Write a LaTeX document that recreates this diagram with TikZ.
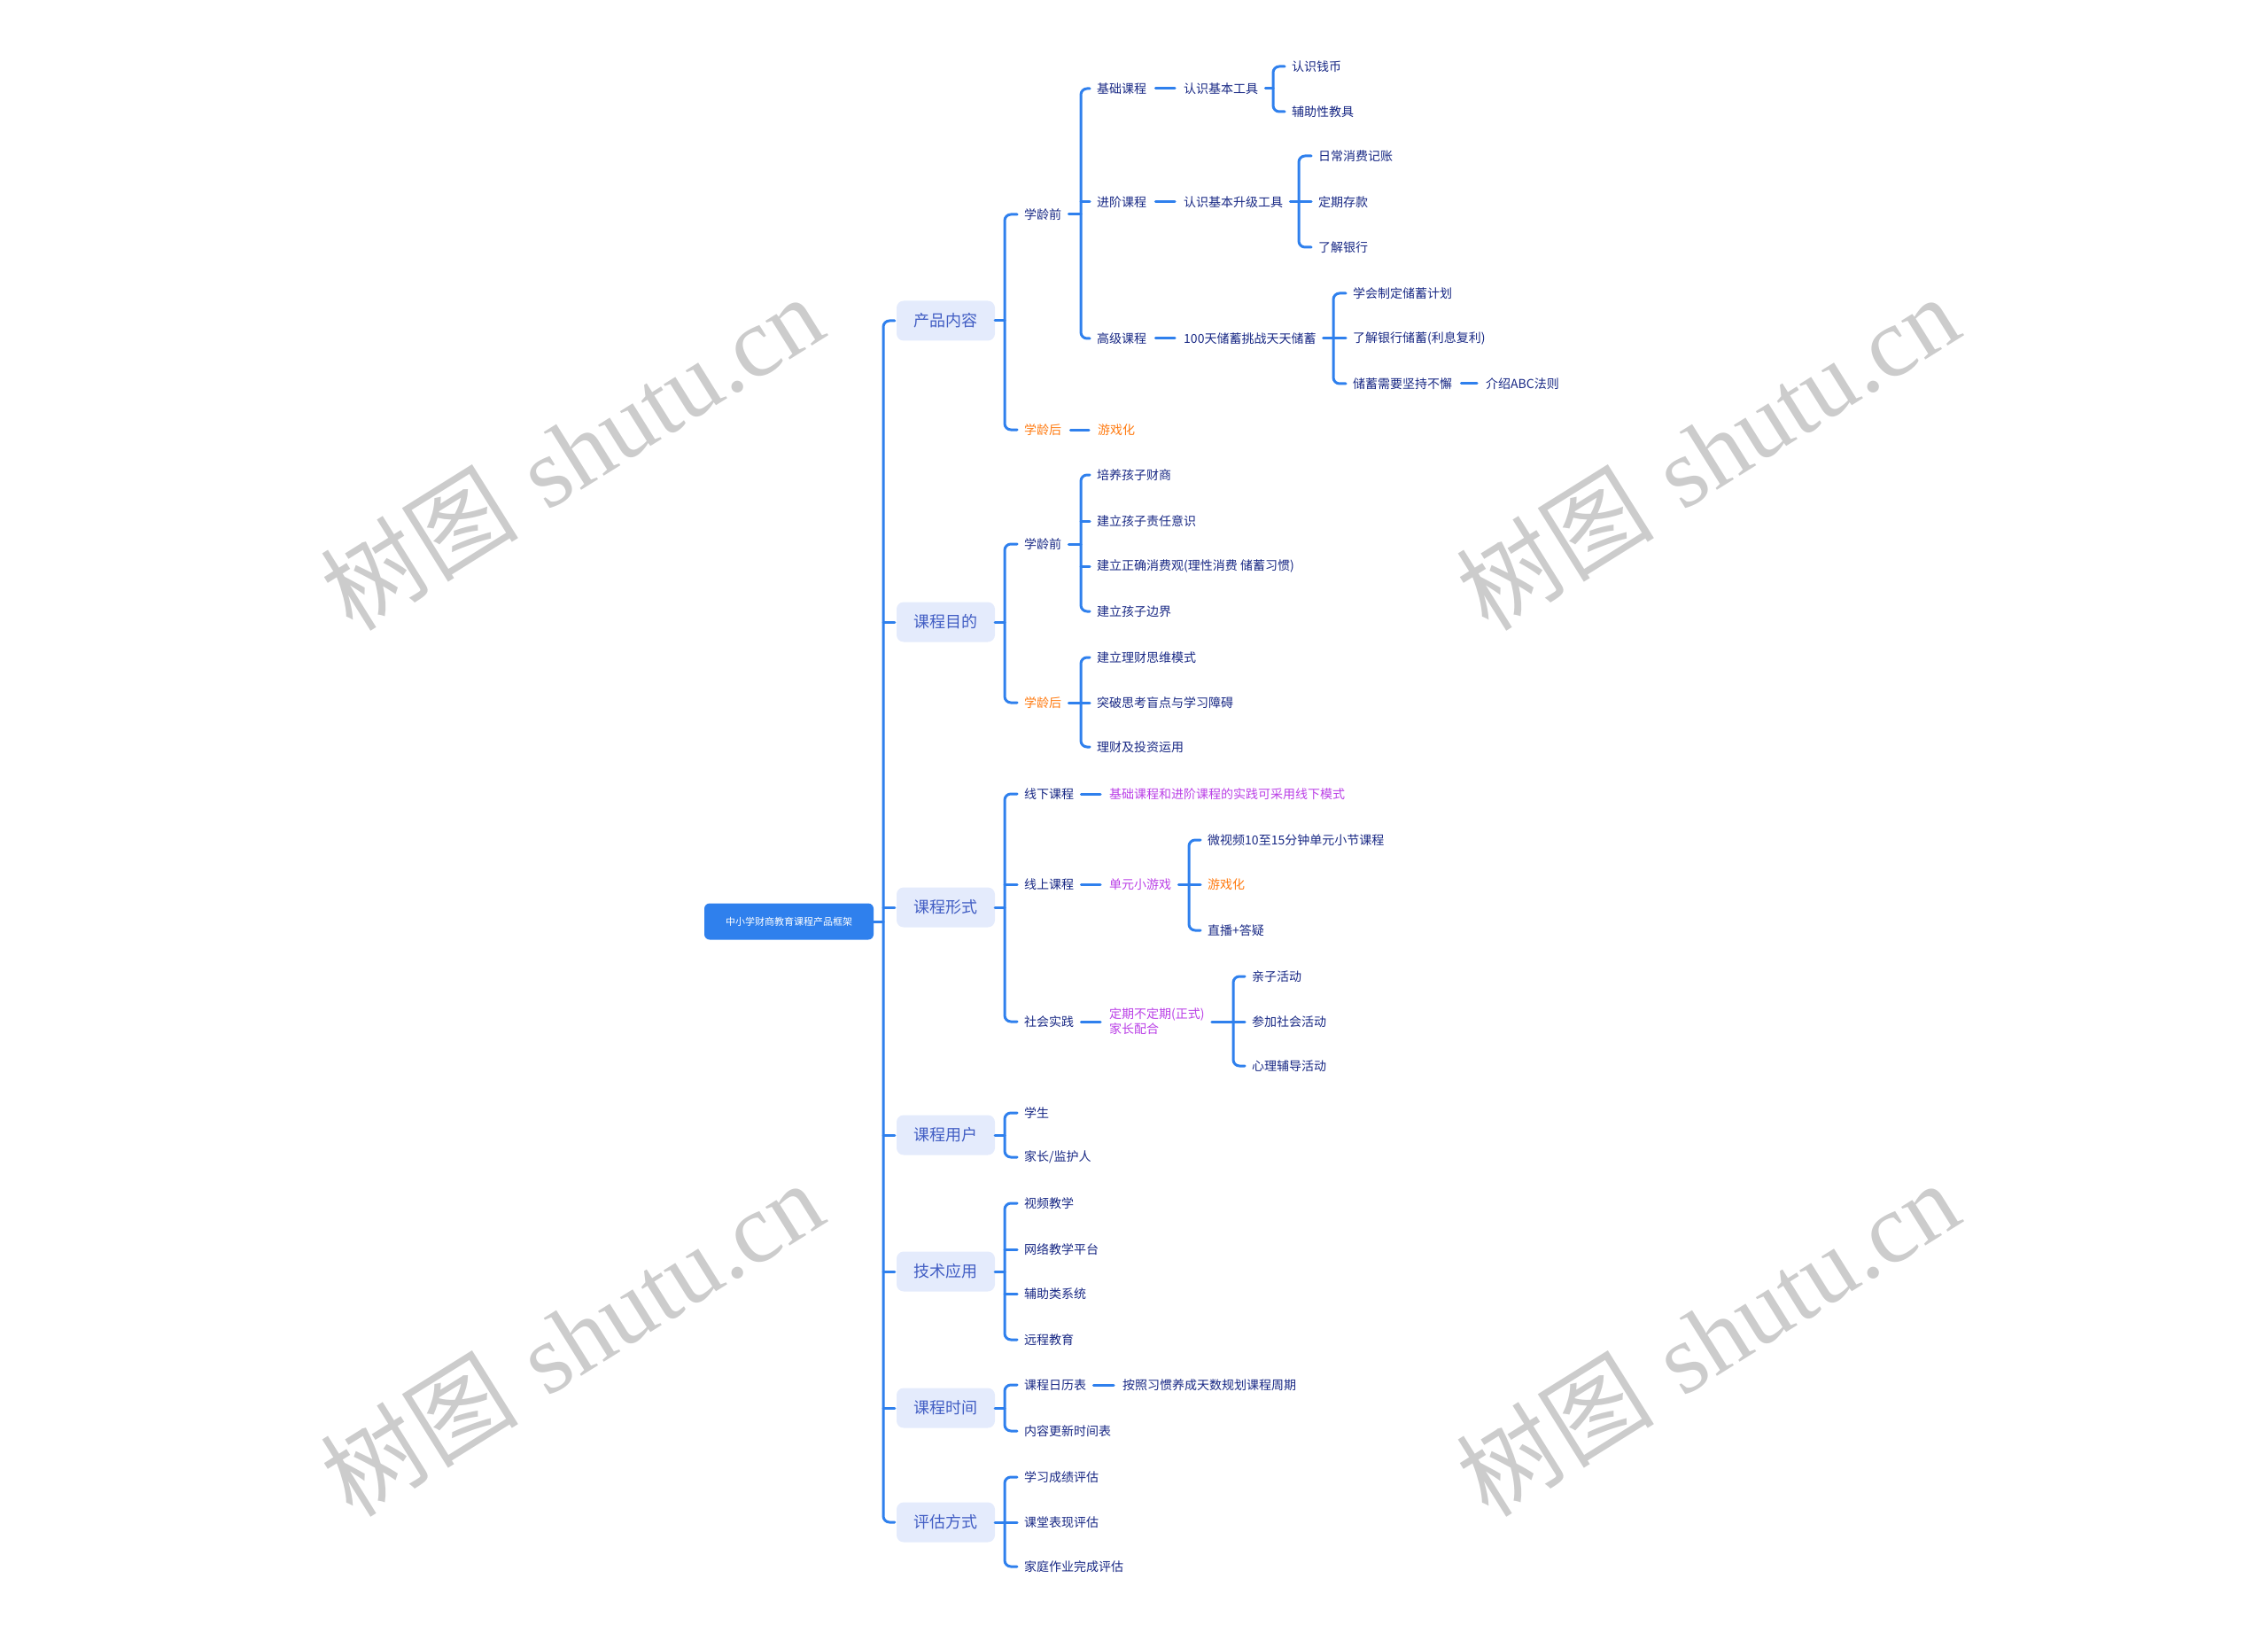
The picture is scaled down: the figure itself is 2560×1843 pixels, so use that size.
\documentclass[tikz,border=0pt]{standalone}
\usepackage{fontspec}
\newfontfamily\cjk{Noto Sans CJK SC}
\newfontfamily\wmserif{Liberation Serif}
\usetikzlibrary{calc}
\definecolor{lineblue}{RGB}{47,128,237}
\definecolor{rootblue}{RGB}{47,128,237}
\definecolor{boxfill}{RGB}{228,235,252}
\definecolor{lvtext}{RGB}{66,94,196}
\definecolor{navy}{RGB}{24,40,132}
\definecolor{orng}{RGB}{255,122,16}
\definecolor{mgnt}{RGB}{186,64,230}
\definecolor{wm}{RGB}{204,204,204}
\begin{document}
\begin{tikzpicture}[x=1pt,y=-1pt,
  conn/.style={draw=lineblue,line width=3pt,rounded corners=7pt,line cap=round},
  rootbox/.style={fill=rootblue,rounded corners=6pt,text=white,font=\cjk\fontsize{11}{13}\selectfont,minimum width=191pt,minimum height=41pt,inner sep=0},
  lvone/.style={fill=boxfill,rounded corners=8pt,text=lvtext,font=\cjk\fontsize{18}{20}\selectfont,minimum width=111pt,minimum height=45pt,inner sep=0},
  leaf/.style={anchor=west,inner sep=0,text=navy,font=\cjk\fontsize{14}{17}\selectfont},
  hot/.style={leaf,text=orng},
  mag/.style={leaf,text=mgnt,align=left},
  wmark/.style={text=wm,rotate=32,font=\fontsize{112}{120}\selectfont}]
\useasboundingbox (0,0) rectangle (2560,1843);

% watermarks
\node[wmark] (wm1) at (645,510) {{\cjk 树图} {\wmserif shutu.cn}};
\node[wmark] (wm2) at (1927,510) {{\cjk 树图} {\wmserif shutu.cn}};
\node[wmark] (wm3) at (645,1510) {{\cjk 树图} {\wmserif shutu.cn}};
\node[wmark] (wm4) at (1927,1510) {{\cjk 树图} {\wmserif shutu.cn}};

% root and level one
\node[rootbox] (root) at (890.5,1040) {中小学财商教育课程产品框架};
\node[lvone] (p1) at (1067.5,362) {产品内容};
\node[lvone] (p2) at (1067.5,702) {课程目的};
\node[lvone] (p3) at (1067.5,1024) {课程形式};
\node[lvone] (p4) at (1067.5,1281) {课程用户};
\node[lvone] (p5) at (1067.5,1435) {技术应用};
\node[lvone] (p6) at (1067.5,1589) {课程时间};
\node[lvone] (p7) at (1067.5,1718) {评估方式};

\coordinate (T) at (997,0);
\draw[conn] (root.east) -- (T |- root.east);
\draw[conn] ([xshift=-2pt]p1.west) -- (T |- p1.west) -- (T |- p7.west) -- ([xshift=-2pt]p7.west);
\foreach \p in {p2,p3,p4,p5,p6} \draw[conn] (T |- \p.west) -- ([xshift=-2pt]\p.west);

% level two
\node[leaf] (a1) at (1156,242) {学龄前};
\node[hot]  (a2) at (1156,485) {学龄后};
\node[leaf] (b1) at (1156,614) {学龄前};
\node[hot]  (b2) at (1156,793) {学龄后};
\node[leaf] (c1) at (1156,896) {线下课程};
\node[leaf] (c2) at (1156,998) {线上课程};
\node[leaf] (c3) at (1156,1153) {社会实践};
\node[leaf] (d1) at (1156,1256) {学生};
\node[leaf] (d2) at (1156,1306) {家长/监护人};
\node[leaf] (e1) at (1156,1358) {视频教学};
\node[leaf] (e2) at (1156,1410) {网络教学平台};
\node[leaf] (e3) at (1156,1460) {辅助类系统};
\node[leaf] (e4) at (1156,1512) {远程教育};
\node[leaf] (f1) at (1156,1563) {课程日历表};
\node[leaf] (f2) at (1156,1615) {内容更新时间表};
\node[leaf] (g1) at (1156,1667) {学习成绩评估};
\node[leaf] (g2) at (1156,1718) {课堂表现评估};
\node[leaf] (g3) at (1156,1768) {家庭作业完成评估};

\coordinate (B) at (1134,0);
\foreach \p/\f/\l in {p1/a1/a2,p2/b1/b2,p3/c1/c3,p4/d1/d2,p5/e1/e4,p6/f1/f2,p7/g1/g3}{
  \draw[conn] (\p.east) -- (B |- \p.east);
  \draw[conn] ([xshift=-8pt]\f.west) -- (B |- \f.west) -- (B |- \l.west) -- ([xshift=-8pt]\l.west);
}
\foreach \m in {c2,e2,e3,g2} \draw[conn] (B |- \m.west) -- ([xshift=-8pt]\m.west);

% level three: product content
\node[leaf] (a11) at (1238,100) {基础课程};
\node[leaf] (a12) at (1238,228) {进阶课程};
\node[leaf] (a13) at (1238,382) {高级课程};
\coordinate (BA) at (1220,0);
\draw[conn] ([xshift=8pt]a1.east) -- (BA |- a1.east);
\draw[conn] ([xshift=-8pt]a11.west) -- (BA |- a11.west) -- (BA |- a13.west) -- ([xshift=-8pt]a13.west);
\draw[conn] (BA |- a12.west) -- ([xshift=-8pt]a12.west);

\node[leaf] (a111) at (1336,100) {认识基本工具};
\node[leaf] (a121) at (1336,228) {认识基本升级工具};
\node[leaf] (a131) at (1336,382) {100天储蓄挑战天天储蓄};
\foreach \u/\v in {a11/a111,a12/a121,a13/a131}
  \draw[conn] ([xshift=10pt]\u.east) -- ([xshift=-10pt]\v.west);

\node[leaf] (a1111) at (1458,75) {认识钱币};
\node[leaf] (a1112) at (1458,126) {辅助性教具};
\coordinate (BB) at (1437,0);
\draw[conn] ([xshift=8pt]a111.east) -- (BB |- a111.east);
\draw[conn] ([xshift=-8pt]a1111.west) -- (BB |- a1111.west) -- (BB |- a1112.west) -- ([xshift=-8pt]a1112.west);

\node[leaf] (a1211) at (1488,176) {日常消费记账};
\node[leaf] (a1212) at (1488,228) {定期存款};
\node[leaf] (a1213) at (1488,279) {了解银行};
\coordinate (BC) at (1466,0);
\draw[conn] ([xshift=8pt]a121.east) -- (BC |- a121.east);
\draw[conn] ([xshift=-8pt]a1211.west) -- (BC |- a1211.west) -- (BC |- a1213.west) -- ([xshift=-8pt]a1213.west);
\draw[conn] (BC |- a1212.west) -- ([xshift=-8pt]a1212.west);

\node[leaf] (a1311) at (1527,331) {学会制定储蓄计划};
\node[leaf] (a1312) at (1527,382) {了解银行储蓄(利息复利)};
\node[leaf] (a1313) at (1527,433) {储蓄需要坚持不懈};
\node[leaf] (a1314) at (1677,433) {介绍ABC法则};
\coordinate (BD) at (1505,0);
\draw[conn] ([xshift=8pt]a131.east) -- (BD |- a131.east);
\draw[conn] ([xshift=-8pt]a1311.west) -- (BD |- a1311.west) -- (BD |- a1313.west) -- ([xshift=-8pt]a1313.west);
\draw[conn] (BD |- a1312.west) -- ([xshift=-8pt]a1312.west);
\draw[conn] ([xshift=10pt]a1313.east) -- ([xshift=-10pt]a1314.west);

\node[hot] (a21) at (1239,485) {游戏化};
\draw[conn] ([xshift=10pt]a2.east) -- ([xshift=-10pt]a21.west);

% course purpose
\node[leaf] (b11) at (1238,536) {培养孩子财商};
\node[leaf] (b12) at (1238,588) {建立孩子责任意识};
\node[leaf] (b13) at (1238,639) {建立正确消费观(理性消费 储蓄习惯)};
\node[leaf] (b14) at (1238,690) {建立孩子边界};
\draw[conn] ([xshift=8pt]b1.east) -- (BA |- b1.east);
\draw[conn] ([xshift=-8pt]b11.west) -- (BA |- b11.west) -- (BA |- b14.west) -- ([xshift=-8pt]b14.west);
\foreach \m in {b12,b13} \draw[conn] (BA |- \m.west) -- ([xshift=-8pt]\m.west);

\node[leaf] (b21) at (1238,742) {建立理财思维模式};
\node[leaf] (b22) at (1238,793) {突破思考盲点与学习障碍};
\node[leaf] (b23) at (1238,843) {理财及投资运用};
\draw[conn] ([xshift=8pt]b2.east) -- (BA |- b2.east);
\draw[conn] ([xshift=-8pt]b21.west) -- (BA |- b21.west) -- (BA |- b23.west) -- ([xshift=-8pt]b23.west);
\draw[conn] (BA |- b22.west) -- ([xshift=-8pt]b22.west);

% course form
\node[mag] (c11) at (1252,896) {基础课程和进阶课程的实践可采用线下模式};
\draw[conn] ([xshift=8pt]c1.east) -- ([xshift=-10pt]c11.west);

\node[mag] (c21) at (1252,998) {单元小游戏};
\draw[conn] ([xshift=8pt]c2.east) -- ([xshift=-10pt]c21.west);
\node[leaf] (c211) at (1363,948) {微视频10至15分钟单元小节课程};
\node[hot]  (c212) at (1363,998) {游戏化};
\node[leaf] (c213) at (1363,1050) {直播+答疑};
\coordinate (BE) at (1342,0);
\draw[conn] ([xshift=8pt]c21.east) -- (BE |- c21.east);
\draw[conn] ([xshift=-8pt]c211.west) -- (BE |- c211.west) -- (BE |- c213.west) -- ([xshift=-8pt]c213.west);
\draw[conn] (BE |- c212.west) -- ([xshift=-8pt]c212.west);

\node[mag] (c31) at (1252,1153) {定期不定期(正式)\\家长配合};
\draw[conn] ([xshift=8pt]c3.east) -- ([xshift=-10pt]c31.west);
\node[leaf] (c311) at (1413,1102) {亲子活动};
\node[leaf] (c312) at (1413,1153) {参加社会活动};
\node[leaf] (c313) at (1413,1203) {心理辅导活动};
\coordinate (BF) at (1392,0);
\draw[conn] ([xshift=8pt]c31.east) -- (BF |- c31.east);
\draw[conn] ([xshift=-8pt]c311.west) -- (BF |- c311.west) -- (BF |- c313.west) -- ([xshift=-8pt]c313.west);
\draw[conn] (BF |- c312.west) -- ([xshift=-8pt]c312.west);

% course time
\node[leaf] (f11) at (1267,1563) {按照习惯养成天数规划课程周期};
\draw[conn] ([xshift=8pt]f1.east) -- ([xshift=-10pt]f11.west);
\end{tikzpicture}
\end{document}
